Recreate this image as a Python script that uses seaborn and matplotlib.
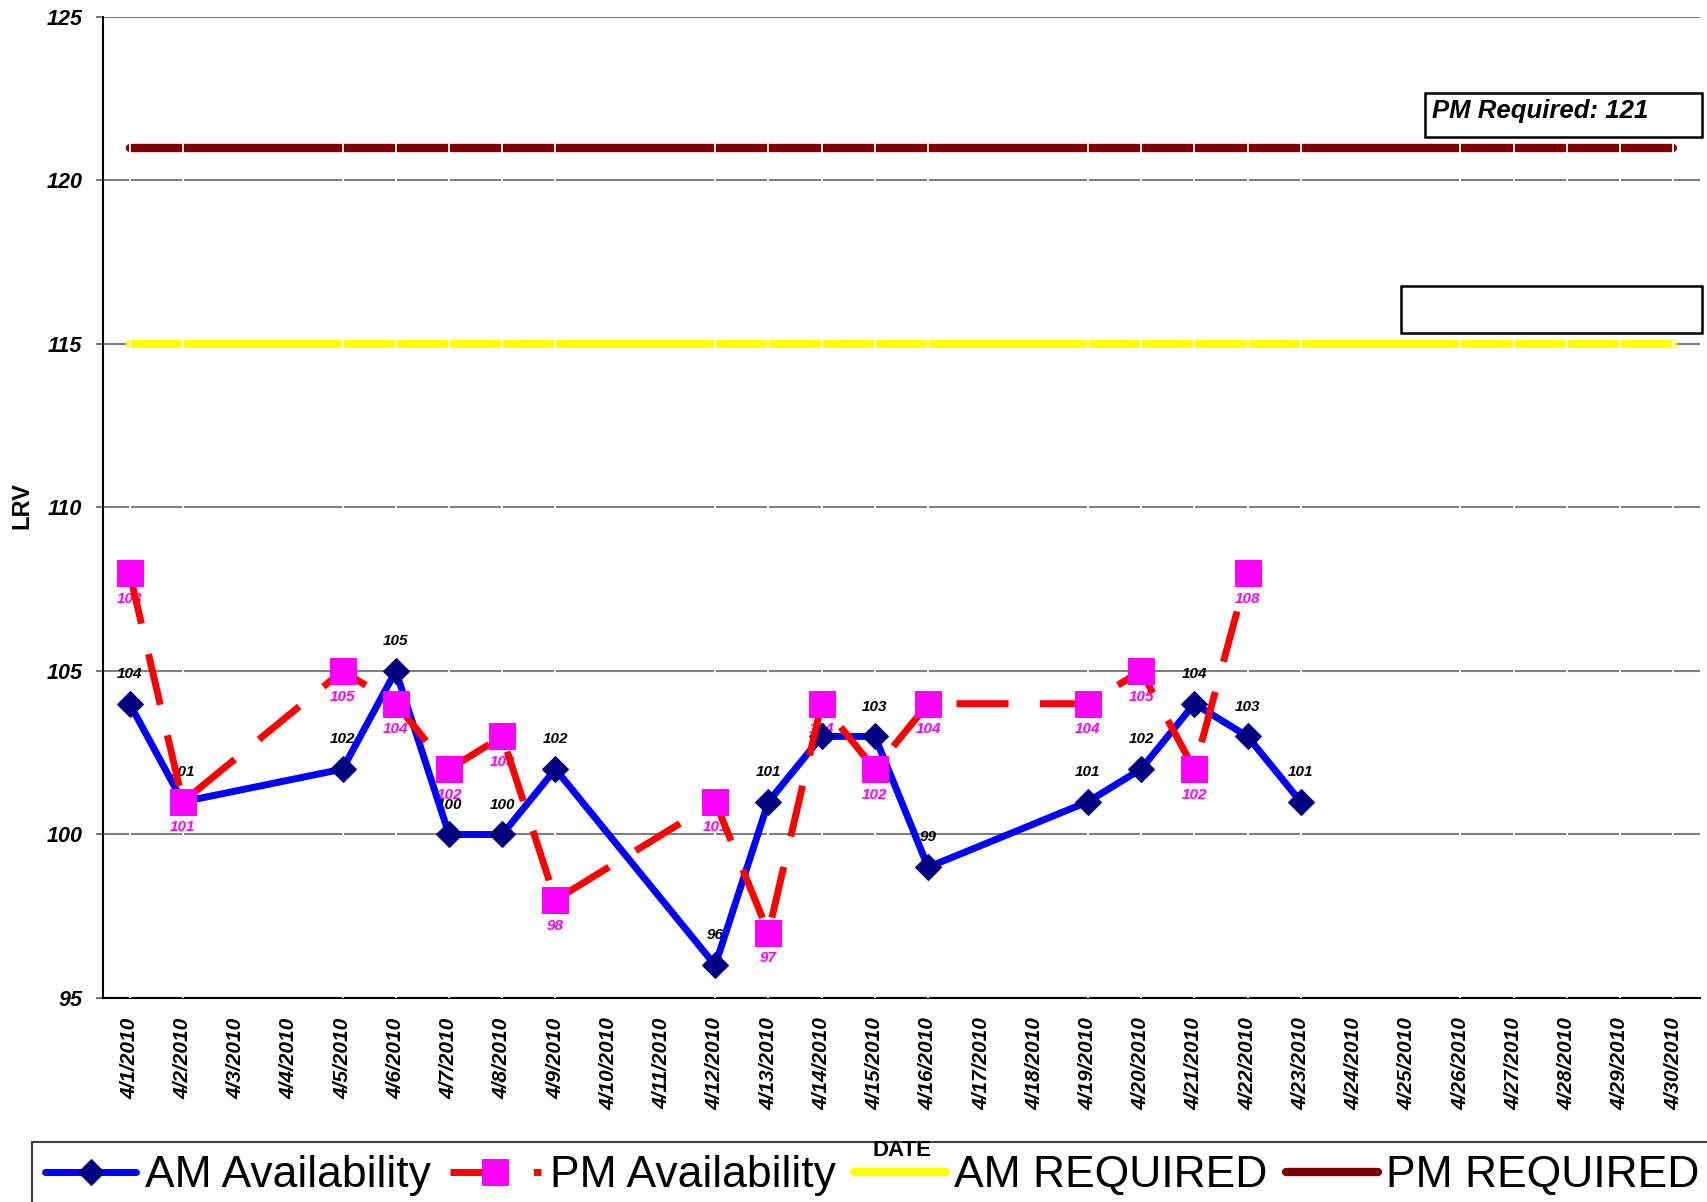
import matplotlib
matplotlib.use("Agg")
import matplotlib.pyplot as plt
from matplotlib.patches import Rectangle
import seaborn as sns
import pandas as pd

W, H = 1707, 1202
DPI = 100

# April 2010, one category per day
dates = pd.date_range("2010-04-01", "2010-04-30", freq="D")
date_labels = ["{}/{}/{}".format(d.month, d.day, d.year) for d in dates]
days = [d.day for d in dates]

am_days = [1, 2, 5, 6, 7, 8, 9, 12, 13, 14, 15, 16, 19, 20, 21, 22, 23]
am_values = [104, 101, 102, 105, 100, 100, 102, 96, 101, 103, 103, 99, 101, 102, 104, 103, 101]

pm_days = [1, 2, 5, 6, 7, 8, 9, 12, 13, 14, 15, 16, 19, 20, 21, 22]
pm_values = [108, 101, 105, 104, 102, 103, 98, 101, 97, 104, 102, 104, 104, 105, 102, 108]

am_required = 115
pm_required = 121

am_df = pd.DataFrame(dict(day=am_days, lrv=am_values))
pm_df = pd.DataFrame(dict(day=pm_days, lrv=pm_values))
req_df = pd.DataFrame(dict(day=days, am=[am_required] * len(days), pm=[pm_required] * len(days)))

sns.set_style("white")
plt.rcParams["font.family"] = ["Liberation Sans", "DejaVu Sans"]
for k in ["text.color", "axes.labelcolor", "xtick.color", "ytick.color"]:
    plt.rcParams[k] = "black"

fig = plt.figure(figsize=(W / DPI, H / DPI), dpi=DPI)
ax = fig.add_axes([103 / W, 1 - 998 / H, (1700 - 103) / W, (998 - 17) / H])

# required levels
sns.lineplot(data=req_df, x="day", y="am", ax=ax, color="#FFFF00", lw=6,
             solid_capstyle="round", zorder=2, label="AM REQUIRED")
sns.lineplot(data=req_df, x="day", y="pm", ax=ax, color="#800000", lw=6,
             solid_capstyle="round", zorder=2, label="PM REQUIRED")

# thin white separators at weekdays (excel artefact)
weekday_days = [d.day for d in dates if d.weekday() < 5]
ax.vlines(weekday_days, 95, 124.85, colors="white", lw=1.3, zorder=2.6)

# availability series
sns.lineplot(data=am_df, x="day", y="lrv", ax=ax, color="#0000FF", lw=5,
             marker="D", ms=13.5, mfc="#000080", mec="#000080", zorder=3,
             label="AM Availability")
sns.lineplot(data=pm_df, x="day", y="lrv", ax=ax, color="#FF0000", lw=5,
             linestyle=(0, (7.5, 4.5)), marker="s", ms=19, mfc="#FF00FF", mec="#FF00FF",
             zorder=4, label="PM Availability")

lbl = dict(fontsize=11, fontweight="bold", fontstyle="italic", ha="center", va="center",
           textcoords="offset points", zorder=2.8)
for d, v in zip(am_days, am_values):
    ax.annotate(str(v), (d, v), xytext=(0, 21.5), color="black", **lbl)
for d, v in zip(pm_days, pm_values):
    ax.annotate(str(v), (d, v), xytext=(0, -18.5), color="#FF00FF", **lbl)

ax.set_xlim(0.5, 30.5)
ax.set_ylim(95, 125)
ax.set_yticks(range(95, 126, 5))
ax.set_yticklabels([str(v) for v in range(95, 126, 5)], fontsize=15.5,
                   fontweight="bold", fontstyle="italic")
ax.set_xticks(days)
ax.set_xticklabels(date_labels, rotation=90, fontsize=15, fontweight="bold",
                   fontstyle="italic", va="top", ha="center")
ax.tick_params(axis="y", length=5, width=1.2, color="#606060", pad=10, left=True)
ax.tick_params(axis="x", length=0, pad=14)
ax.set_xlabel("")
ax.set_ylabel("")

ax.yaxis.grid(True, color="#808080", lw=1.5)
ax.set_axisbelow(True)
for s in ["top", "right"]:
    ax.spines[s].set_visible(False)
ax.spines["left"].set_color("black")
ax.spines["left"].set_linewidth(1.5)
ax.spines["bottom"].set_color("black")
ax.spines["bottom"].set_linewidth(1.5)

if ax.get_legend() is not None:
    ax.get_legend().remove()

handles, labels = ax.get_legend_handles_labels()
lookup = dict(zip(labels, handles))
order = ["AM Availability", "PM Availability", "AM REQUIRED", "PM REQUIRED"]
leg = fig.legend([lookup[o] for o in order], order, loc="upper left",
                 bbox_to_anchor=(32 / W, 1 - 1142 / H), ncol=4, fontsize=32,
                 frameon=True, fancybox=False, edgecolor="#404040", framealpha=1,
                 handlelength=2.05, handletextpad=0.2, columnspacing=0.42,
                 borderpad=0.3, borderaxespad=0)
leg.get_frame().set_linewidth(1.5)

fig.text(902 / W, 1 - 1150 / H, "DATE", fontsize=16, fontweight="bold",
         ha="center", va="center", zorder=10)
fig.text(22 / W, 1 - 506 / H, "LRV", fontsize=17, fontweight="bold",
         rotation=90, ha="center", va="center")

# annotation boxes
fig.add_artist(Rectangle((1425 / W, 1 - 137 / H), (1702 - 1425) / W, 44 / H,
                         transform=fig.transFigure, fill=False, ec="black", lw=1.8))
fig.text(1432 / W, 1 - 118 / H, "PM Required: 121", fontsize=18.5, fontweight="bold",
         fontstyle="italic", ha="left", va="baseline")
fig.add_artist(Rectangle((1401 / W, 1 - 333 / H), (1702 - 1401) / W, 47 / H,
                         transform=fig.transFigure, fill=False, ec="black", lw=1.8))

fig.savefig("out.png", dpi=DPI)
plt.close()
